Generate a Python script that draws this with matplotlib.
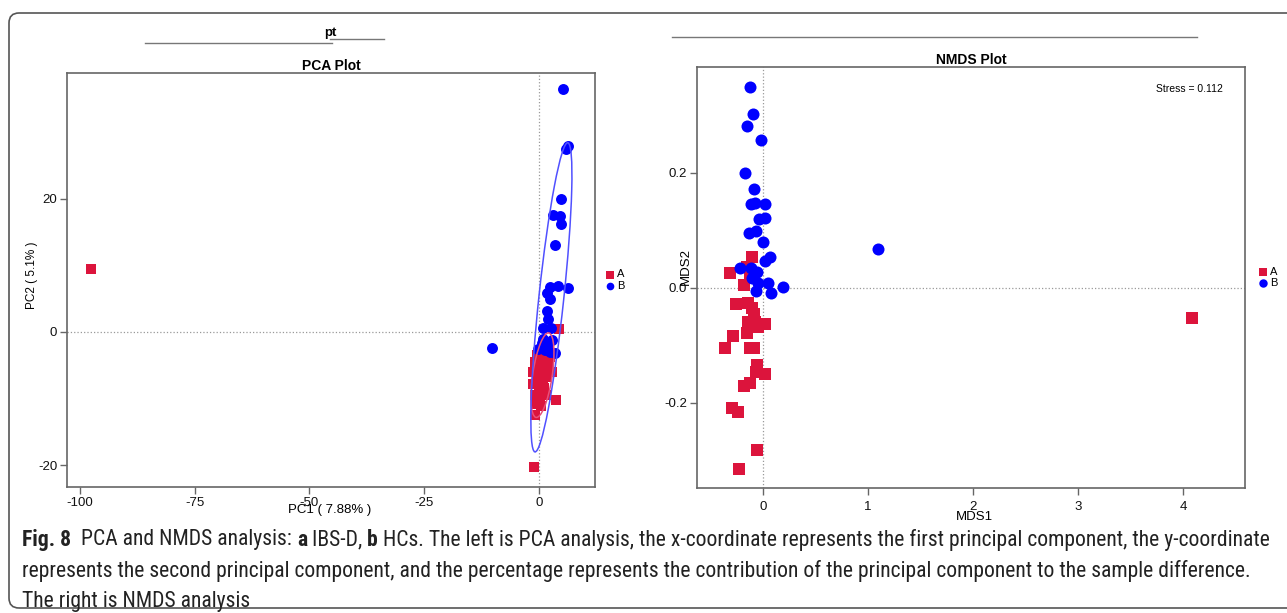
import matplotlib
matplotlib.use("Agg")
import matplotlib.pyplot as plt
from matplotlib import font_manager as fm
from matplotlib.patches import Ellipse, FancyBboxPatch
from matplotlib.lines import Line2D
from matplotlib.transforms import IdentityTransform

W, H = 1287, 613
plt.rcParams['font.family'] = ['Liberation Sans', 'DejaVu Sans']
plt.rcParams['axes.unicode_minus'] = False

# ---- PCA data ----
pca_a_x = [-97.6, 4.4, -0.5, 0.5, 1.5, 2.5, 0.0, 1.0, 2.0, -1.2, -0.3, 0.8, 1.8, -1.3, 0.0,
           1.2, -0.8, 0.3, 1.5, -0.5, 0.5, 3.6, -0.9, -1.1, 2.2, -0.8, 1.0, 2.8]
pca_a_y = [9.5, 0.4, -3.5, -3.5, -4.0, -3.8, -5.0, -5.5, -5.0, -6.0, -6.5, -7.0, -6.8, -7.8, -8.0,
           -8.5, -9.5, -9.8, -9.5, -10.8, -11.2, -10.2, -12.5, -20.3, -2.5, -4.5, -2.8, -6.0]
pca_b_x = [5.3, 6.4, 5.9, 4.7, 3.1, 4.6, 4.7, 3.5, 2.4, 4.2, 6.4, 1.7, 2.4, 1.8, 1.9, 0.8,
           2.6, 0.9, 2.8, -0.2, 1.3, 2.4, 3.5, 1.7, 0.6, -10.2]
pca_b_y = [36.5, 27.9, 27.5, 20.0, 17.6, 17.4, 16.2, 13.1, 6.8, 6.9, 6.6, 5.9, 4.9, 3.1, 1.9, 0.6,
           0.6, -1.0, -1.2, -2.5, -2.7, -3.0, -3.1, -2.0, -1.7, -2.4]
# confidence ellipses: center x, center y, full major, full minor, angle (data units)
ell_a = [0.75, -6.5, 13.0, 4.2, 77.0]
ell_b = [2.7, 5.2, 47.0, 5.4, 81.2]
pca_xticks = [-100, -75, -50, -25, 0]
pca_yticks = [-20, 0, 20]

# ---- NMDS data ----
nmds_a_x = [-0.108, -0.314, -0.155, -0.181, -0.257, -0.140, -0.108, -0.086, -0.140, -0.076,
            0.019, -0.045, -0.155, -0.289, -0.362, -0.124, -0.086, -0.054, -0.067, 0.013,
            -0.124, -0.178, -0.298, -0.235, -0.054, -0.231, 4.086, -0.124]
nmds_a_y = [0.054, 0.026, 0.037, 0.005, -0.028, -0.027, -0.035, -0.045, -0.060, -0.059,
            -0.063, -0.068, -0.078, -0.083, -0.105, -0.105, -0.104, -0.134, -0.147, -0.150,
            -0.166, -0.170, -0.209, -0.216, -0.282, -0.315, -0.052, 0.020]
nmds_b_x = [-0.124, -0.098, -0.155, -0.019, -0.171, -0.086, -0.117, -0.079, 0.022, -0.041,
            0.013, -0.130, -0.067, 0.003, 0.067, 0.016, -0.219, -0.117, -0.054, -0.108,
            -0.045, 0.050, 0.193, -0.067, 0.073, 1.095]
nmds_b_y = [0.349, 0.303, 0.282, 0.257, 0.200, 0.172, 0.146, 0.147, 0.146, 0.120,
            0.121, 0.096, 0.098, 0.079, 0.053, 0.046, 0.034, 0.034, 0.027, 0.017,
            0.009, 0.009, 0.002, -0.006, -0.009, 0.068]
nmds_xticks = [0, 1, 2, 3, 4]
nmds_yticks = [-0.2, 0.0, 0.2]
stress = 0.112

RED = '#DC143C'
BLUE = '#0000FF'
AXC = '#666666'


def px_rect(l, t, r, b):
    return [l / W, 1 - b / H, (r - l) / W, (b - t) / H]


def style_axes(ax, fs):
    for s in ax.spines.values():
        s.set_color(AXC)
        s.set_linewidth(1.2)
    ax.tick_params(direction='out', length=5, width=1, color=AXC, labelsize=fs,
                   labelcolor='#111111', pad=2)
    ax.axhline(0, color='#999999', lw=0.9, ls=':', zorder=0)
    ax.axvline(0, color='#999999', lw=0.9, ls=':', zorder=0)


fig = plt.figure(figsize=(W / 100, H / 100), dpi=100)
fig.patch.set_facecolor('white')

# ---- PCA ----
ax1 = fig.add_axes(px_rect(67, 73, 595, 487))
style_axes(ax1, 9.5)
ax1.scatter(pca_a_x, pca_a_y, marker='s', s=62, color=RED, lw=0, label='A', zorder=3)
ax1.scatter(pca_b_x, pca_b_y, marker='o', s=62, color=BLUE, lw=0, label='B', zorder=3)
ax1.add_patch(Ellipse((ell_a[0], ell_a[1]), ell_a[2], ell_a[3], angle=ell_a[4],
                      fill=False, ec='#E8507A', lw=1.1, zorder=4))
ax1.add_patch(Ellipse((ell_b[0], ell_b[1]), ell_b[2], ell_b[3], angle=ell_b[4],
                      fill=False, ec='#5050FF', lw=1.1, zorder=4))
ax1.set_xlim(-102.8, 12.2)
ax1.set_ylim(-23.3, 38.9)
ax1.set_xticks(pca_xticks)
ax1.set_yticks(pca_yticks)
ax1.set_title('PCA Plot', fontsize=10, fontweight='bold', pad=2)
ax1.set_xlabel('PC1 ( 7.88% )', fontsize=9.5)
ax1.set_ylabel('PC2 ( 5.1% )', fontsize=8.5)
ax1.xaxis.set_label_coords(0.498, -0.040)
ax1.yaxis.set_label_coords(-0.055, 0.512)
ax1.legend(loc='center left', bbox_to_anchor=(1.01, 0.5), frameon=False, fontsize=8,
           handlelength=0.7, handletextpad=0.3, labelspacing=0.1, borderpad=0,
           markerscale=0.7)

# ---- NMDS ----
ax2 = fig.add_axes(px_rect(697, 67, 1245, 488))
style_axes(ax2, 9.5)
ax2.tick_params(axis='x', pad=4)
ax2.scatter(nmds_a_x, nmds_a_y, marker='s', s=75, color=RED, lw=0, label='A', zorder=3)
ax2.scatter(nmds_b_x, nmds_b_y, marker='o', s=75, color=BLUE, lw=0, label='B', zorder=3)
ax2.set_xlim(-0.63, 4.59)
ax2.set_ylim(-0.348, 0.384)
ax2.set_xticks(nmds_xticks)
ax2.set_yticks(nmds_yticks)
ax2.set_yticklabels([f'{v:.1f}' for v in nmds_yticks])
ax2.set_title('NMDS Plot', fontsize=10, fontweight='bold', pad=2)
ax2.set_xlabel('MDS1', fontsize=9.5)
ax2.set_ylabel('MDS2', fontsize=9.5)
ax2.xaxis.set_label_coords(0.507, -0.054)
ax2.yaxis.set_label_coords(-0.009, 0.527)
ax2.text(0.96, 0.96, f'Stress = {stress}', transform=ax2.transAxes, ha='right', va='top',
         fontsize=7.5)
ax2.legend(loc='center left', bbox_to_anchor=(1.015, 0.5), frameon=False, fontsize=8,
           handlelength=0.7, handletextpad=0.3, labelspacing=0.1, borderpad=0,
           markerscale=0.7)

# ---- stray header artefacts ----
for x0, x1, y in [(145, 332, 43), (330, 384, 39), (672, 1197, 37)]:
    fig.add_artist(Line2D([x0 / W, x1 / W], [1 - y / H] * 2, color='#777777', lw=1))
fig.text(330 / W, 1 - 33 / H, 'pt', ha='center', va='center', fontsize=9.5, fontweight='bold')

# ---- frame around the figure panel ----
fig.add_artist(FancyBboxPatch((9, 5), 1400, 595, boxstyle='round,pad=0,rounding_size=10',
                              fill=False, ec='#555555', lw=1.2, transform=IdentityTransform()))

# ---- caption ----
cap_font = []
for name in ['Liberation Sans Narrow', 'DejaVu Sans Condensed', 'Roboto Condensed',
             'Open Sans Condensed', 'Liberation Sans']:
    try:
        fm.findfont(fm.FontProperties(family=name), fallback_to_default=False)
        cap_font.append(name)
    except ValueError:
        pass
cap_font.append('DejaVu Sans')

lines = [
    [('Fig. 8', 'bold'), ('  PCA and NMDS analysis: ', 'normal'), ('a', 'bold'),
     (' IBS-D, ', 'normal'), ('b', 'bold'),
     (' HCs. The left is PCA analysis, the x-coordinate represents the first principal '
      'component, the y-coordinate', 'normal')],
    [('represents the second principal component, and the percentage represents the '
      'contribution of the principal component to the sample difference.', 'normal')],
    [('The right is NMDS analysis', 'normal')],
]
fig.canvas.draw()
renderer = fig.canvas.get_renderer()


def place_line(parts, y, size, draw=True):
    x = 22
    for txt, wt in parts:
        t = fig.text(x / W, y, txt, fontsize=size, fontweight=wt, family=cap_font,
                     va='center', ha='left', color='#222222')
        x += t.get_window_extent(renderer).width
        if not draw:
            t.remove()
    return x


# size the caption so its first line ends where it does in the figure
right = place_line(lines[0], 0, 12, draw=False)
cap_size = 12 * 1246 / (right - 22)

for i, parts in enumerate(lines):
    place_line(parts, 1 - (540 + 31 * i) / H, cap_size)

fig.savefig('out.png', dpi=100, facecolor='white')
